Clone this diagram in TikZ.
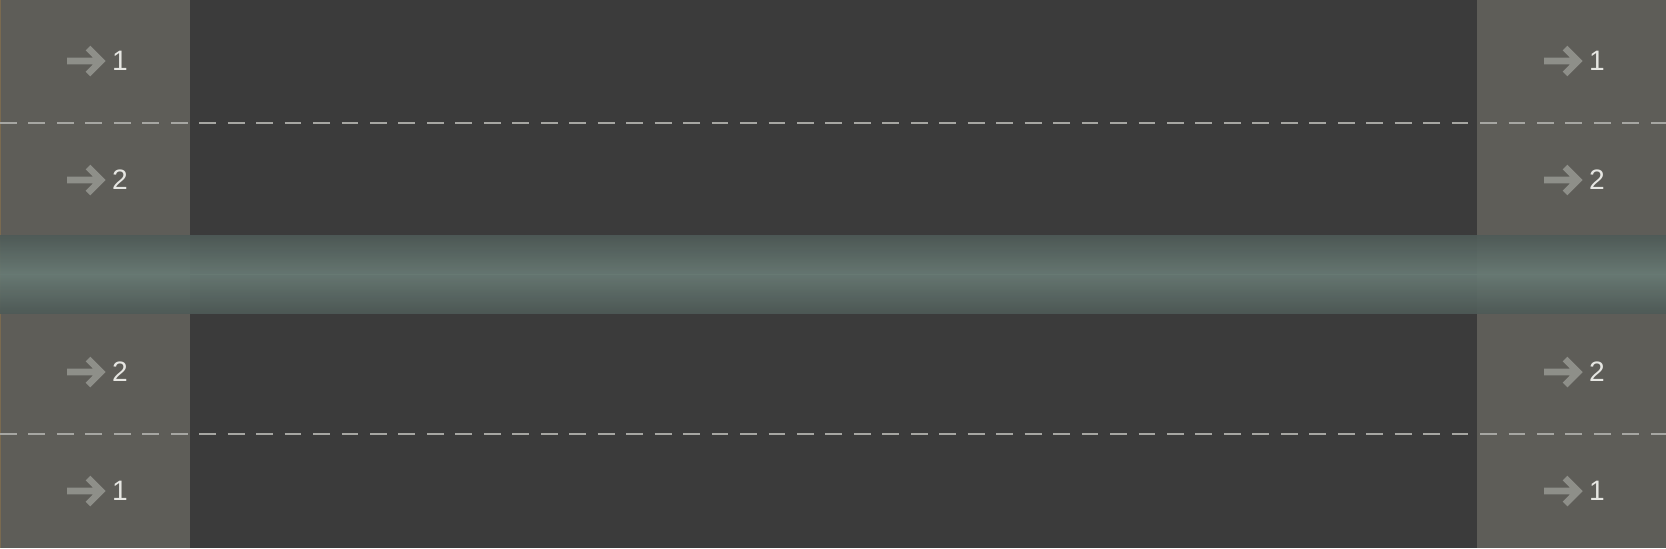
\documentclass[tikz,border=0pt]{standalone}
\usepackage{fontspec}
\setmainfont{Liberation Sans}
\usetikzlibrary{calc}

\definecolor{asphalt}{HTML}{3B3B3B}
\definecolor{walkway}{HTML}{5E5D58}
\definecolor{medianedge}{HTML}{4E5A57}
\definecolor{mediancore}{HTML}{687A74}
\definecolor{dashgray}{HTML}{A6A6A2}
\definecolor{arrowgray}{HTML}{8E8F89}
\definecolor{numwhite}{HTML}{E6E6E2}
\definecolor{curbline}{HTML}{7A6A50}

\begin{document}
\begin{tikzpicture}[
    x=0.02cm, y=-0.02cm,
    lanenum/.style={inner sep=0pt, text=numwhite, font=\fontsize{16}{19}\selectfont},
    lanearrow/.style={draw=arrowgray, line width=3.8pt, line join=miter},
    lanedash/.style={draw=dashgray, line width=1.3pt, dash pattern=on 9.6pt off 6.6pt}
]
\useasboundingbox (0,0) rectangle (1666,548);

% Road surface
\fill[asphalt] (0,0) rectangle (1666,548);

% Side blocks
\fill[walkway] (0,0) rectangle (190,548);
\fill[walkway] (1477,0) rectangle (1666,548);
\draw[curbline, line width=0.8pt] (0.5,0) -- (0.5,548);

% Lane dividers
\draw[lanedash] (0,123) -- (1666,123);
\draw[lanedash] (0,434) -- (1666,434);

% Median strip
\shade[top color=medianedge, bottom color=mediancore, fill opacity=0.93]
    (0,235) rectangle (1666,274);
\shade[top color=mediancore, bottom color=medianedge, fill opacity=0.93]
    (0,274) rectangle (1666,313);

% Lane numbers, left
\node[lanenum] (l1) at (120,61) {1};
\node[lanenum] (l2) at (120,180) {2};
\node[lanenum] (l3) at (120,372) {2};
\node[lanenum] (l4) at (120,491) {1};

% Lane numbers, right
\node[lanenum] (r1) at (1597,61) {1};
\node[lanenum] (r2) at (1597,180) {2};
\node[lanenum] (r3) at (1597,372) {2};
\node[lanenum] (r4) at (1597,491) {1};

% Arrows
\draw[lanearrow] ($(l1)+(-53,0)$) -- ++(33,0) ($(l1)+(-32,-13)$) -- ++(13,13) -- ++(-13,13);
\draw[lanearrow] ($(l2)+(-53,0)$) -- ++(33,0) ($(l2)+(-32,-13)$) -- ++(13,13) -- ++(-13,13);
\draw[lanearrow] ($(l3)+(-53,0)$) -- ++(33,0) ($(l3)+(-32,-13)$) -- ++(13,13) -- ++(-13,13);
\draw[lanearrow] ($(l4)+(-53,0)$) -- ++(33,0) ($(l4)+(-32,-13)$) -- ++(13,13) -- ++(-13,13);
\draw[lanearrow] ($(r1)+(-53,0)$) -- ++(33,0) ($(r1)+(-32,-13)$) -- ++(13,13) -- ++(-13,13);
\draw[lanearrow] ($(r2)+(-53,0)$) -- ++(33,0) ($(r2)+(-32,-13)$) -- ++(13,13) -- ++(-13,13);
\draw[lanearrow] ($(r3)+(-53,0)$) -- ++(33,0) ($(r3)+(-32,-13)$) -- ++(13,13) -- ++(-13,13);
\draw[lanearrow] ($(r4)+(-53,0)$) -- ++(33,0) ($(r4)+(-32,-13)$) -- ++(13,13) -- ++(-13,13);

\end{tikzpicture}
\end{document}
